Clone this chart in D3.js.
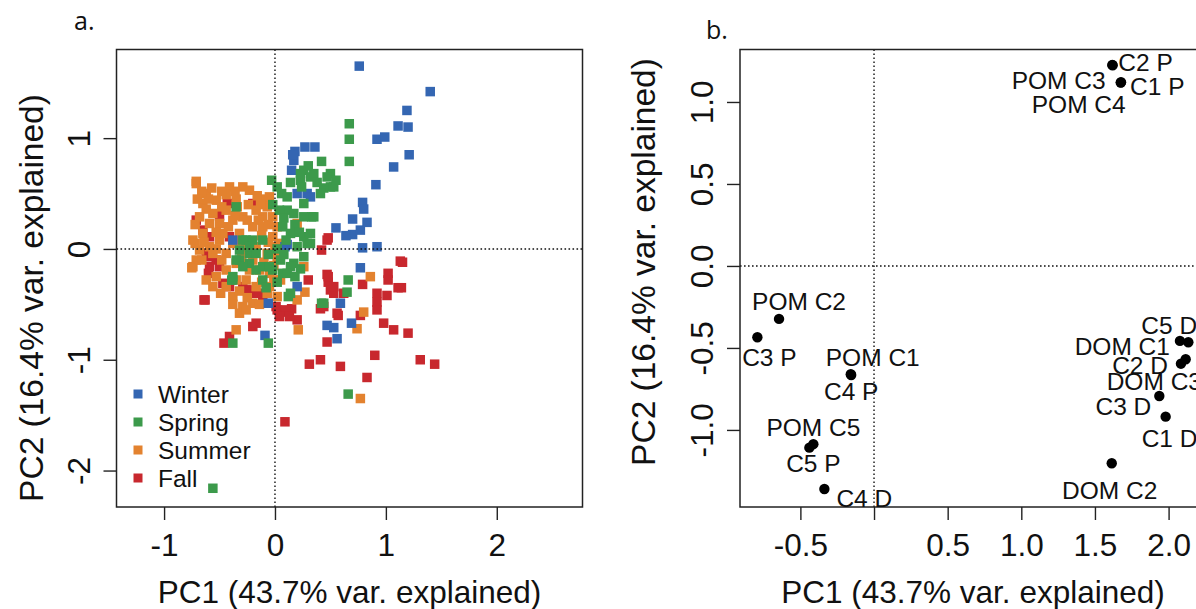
<!DOCTYPE html>
<html>
<head>
<meta charset="utf-8">
<script src="https://cdn.jsdelivr.net/npm/d3@7"></script>
<style>
  body { margin: 0; background: #fff; }
  svg { display: block; }
</style>
</head>
<body>
<svg id="chart" width="1196" height="609"></svg>
<script>
// ---- Panel a: sample scores on PC1 / PC2, grouped by season ----
const winterScores = [
  [0.76,1.65],[1.40,1.42],[1.19,1.25],[1.11,1.11],[1.20,1.10],[0.92,0.99],[0.99,1.01],[1.21,0.85],
  [1.07,0.74],[0.91,0.58],[0.79,0.42],[0.80,0.36],[0.70,0.27],[0.83,0.24],[0.55,0.19],[0.70,0.13],
  [0.77,0.17],[0.79,0.01],[0.92,0.02],[0.18,0.88],[0.27,0.92],[0.36,0.92],[0.17,0.80],[0.15,0.71],
  [0.16,0.85],[0.20,0.50],[0.29,0.50],[0.32,0.47],[0.09,0.02],[0.77,-0.17],[0.20,-0.34],[0.59,-0.49],
  [-0.06,-0.49],[0.47,-0.69],[0.53,-0.71],[0.69,-0.67],[0.56,-0.81],[-0.09,-0.78],[-0.38,0.08],
  [0.11,0.04],[0.64,0.12]
];
const springScores = [
  [0.67,1.13],[0.67,0.99],[0.67,0.79],[0.42,0.79],[0.50,0.68],[0.26,0.71],[0.23,0.62],[0.32,0.65],
  [0.50,0.56],[0.44,0.55],[-0.03,0.62],[0.02,0.56],[0.06,0.50],[0.11,0.47],[0.24,0.56],[0.33,0.29],
  [0.26,0.41],[0.11,0.35],[0.17,0.32],[0.07,0.20],[0.14,0.14],[0.26,0.11],[0.20,0.02],[0.32,0.05],
  [0.26,-0.07],[0.17,-0.13],[0.07,-0.22],[-0.02,-0.19],[-0.11,-0.28],[-0.26,0.08],[-0.32,-0.01],
  [-0.23,-0.13],[-0.17,-0.19],[-0.38,-0.28],[-0.35,0.38],[0.66,-0.28],[0.65,-0.39],[0.42,-0.49],
  [0.12,-0.43],[-0.39,-0.28],[-0.38,-0.85],[-0.06,-0.85],[0.66,-1.31],[-0.56,-2.16],[-0.11,-0.16],
  [-0.32,-0.10],[-0.23,-0.04],[0.23,0.68],[0.35,0.68],[0.47,0.65],[0.53,0.56],[0.41,0.50],
  [0.26,0.29],[0.35,0.29],[-0.29,0.08],[-0.20,0.08],[-0.11,0.08],[-0.23,0.02],[-0.17,-0.04],
  [0.29,0.05],[0.32,0.14],[0.05,-0.10],[0.14,-0.16],[0.11,-0.22],[-0.05,-0.16],[-0.35,-0.10],
  [-0.29,-0.16],[-0.38,-0.25],[0.14,-0.40],[0.44,-0.49],[-0.02,0.40],[0.04,0.35],[0.08,0.28],
  [0.18,0.22],[0.22,0.15],[0.10,0.08],[0.02,0.00],[-0.06,-0.05],[0.08,-0.05],[0.23,-0.18],
  [0.18,-0.25],[0.02,-0.30],[-0.08,-0.35],[0.38,0.60],[0.30,0.75],[0.14,0.60],[0.55,0.62]
];
const summerScores = [
  [-0.71,0.59],[-0.62,0.50],[-0.65,0.41],[-0.53,0.44],[-0.41,0.56],[-0.29,0.56],[-0.23,0.53],
  [-0.56,0.32],[-0.44,0.35],[-0.68,0.29],[-0.59,0.23],[-0.50,0.23],[-0.38,0.26],[-0.29,0.29],
  [-0.17,0.35],[-0.07,0.38],[-0.11,0.29],[-0.02,0.29],[0.02,0.20],[-0.65,0.14],[-0.74,0.08],
  [-0.68,-0.01],[-0.71,-0.10],[-0.74,-0.16],[-0.59,0.02],[-0.50,0.08],[-0.56,-0.04],[-0.44,-0.04],
  [-0.47,0.14],[-0.32,0.14],[-0.20,0.20],[-0.11,0.20],[-0.02,0.11],[0.05,0.05],[-0.26,-0.01],
  [-0.17,0.02],[-0.07,-0.04],[0.02,-0.07],[-0.35,-0.13],[-0.44,-0.19],[-0.53,-0.25],[-0.56,-0.34],
  [-0.44,-0.34],[-0.35,-0.28],[-0.23,-0.19],[-0.14,-0.19],[-0.05,-0.22],[-0.26,-0.28],[-0.17,-0.34],
  [-0.05,-0.34],[0.05,-0.28],[-0.38,-0.43],[-0.29,-0.52],[-0.20,-0.49],[-0.07,-0.40],[0.02,-0.43],
  [0.20,0.23],[0.26,-0.16],[0.20,-0.46],[-0.32,-0.58],[-0.26,-0.55],[-0.71,0.61],[-0.63,0.50],
  [-0.44,0.49],[-0.72,0.05],[0.86,-0.25],[-0.75,-0.17],[-0.35,-0.73],[0.27,-0.39],[0.21,-0.73],
  [0.80,-0.57],[0.74,-0.72],[0.77,-1.35],[-0.60,0.45],[-0.35,0.45],[-0.10,0.45],
  [-0.66,0.52],[-0.57,0.55],[-0.48,0.52],[-0.36,0.52],[-0.16,0.48],[-0.05,0.47],
  [-0.70,0.45],[-0.62,0.36],[-0.48,0.38],[-0.34,0.38],[-0.24,0.40],[-0.13,0.40],
  [-0.72,0.22],[-0.53,0.15],[-0.42,0.20],[-0.36,0.30],[-0.25,0.26],[-0.15,0.26],[-0.06,0.22],
  [-0.64,0.06],[-0.53,0.00],[-0.38,0.05],[-0.30,0.07],[-0.12,0.12],[-0.06,0.06],[0.00,0.02],
  [-0.66,-0.10],[-0.62,-0.28],[-0.48,-0.10],[-0.30,-0.08],[-0.20,-0.10],[-0.10,-0.12],[-0.01,-0.15],
  [-0.49,-0.40],[-0.32,-0.38],[-0.25,-0.44],[-0.12,-0.30],[-0.01,-0.28],[-0.14,-0.50],[-0.38,-0.50]
];
const fallScores = [
  [0.48,0.10],[0.42,-0.01],[1.13,-0.11],[-0.71,0.26],[1.02,-0.22],[1.02,-0.28],[1.11,-0.35],
  [0.79,-0.32],[0.47,-0.23],[0.48,-0.30],[0.50,-0.37],[0.53,-0.40],[0.30,-0.28],[0.92,-0.40],
  [1.01,-0.42],[0.92,-0.48],[0.92,-0.55],[0.77,-0.60],[0.57,-0.60],[0.41,-0.54],[0.98,-0.67],
  [1.07,-0.73],[1.20,-0.76],[0.47,-0.84],[0.15,-0.54],[0.20,-0.64],[0.02,-0.55],[0.07,-0.57],
  [-0.20,-0.70],[-0.46,-0.85],[-0.41,-0.79],[-0.64,-0.46],[0.31,-1.04],[0.41,-1.00],[0.59,-1.06],
  [0.90,-0.96],[0.83,-1.16],[1.31,-1.00],[1.44,-1.04],[0.09,-1.56],[-0.62,-0.04],[-0.53,-0.10],
  [-0.60,-0.22],[-0.47,-0.31],[-0.26,-0.37],[-0.17,-0.40],[-0.11,-0.43],[-0.65,0.17],[-0.59,0.11],
  [-0.41,0.11],[-0.59,-0.07],[-0.59,-0.16],[-0.50,-0.16],[-0.41,-0.34],[-0.29,-0.34],[-0.23,-0.37],
  [-0.14,-0.40],[-0.63,-0.46],[0.01,-0.52],[0.10,-0.55],[0.13,-0.61],[0.04,-0.61],[0.44,-0.52],
  [0.48,-0.25],[0.53,-0.34],[0.47,0.08],[-0.17,-0.67],[0.56,-0.58],[0.62,-0.40],[1.15,-0.12],
  [1.14,-0.35],[-0.43,0.41],[-0.20,0.41],[-0.50,0.30]
];
const seasonNames = ["Winter", "Spring", "Summer", "Fall"];
const seasonColors = ["#3466b2", "#3c9a4b", "#e3822f", "#c8282e"];

// ---- Panel b: variable loadings ----
const loadingNames = ["C2 P", "C1 P", "POM C3", "POM C4", "POM C2", "C3 P", "POM C1", "C4 P", "POM C5",
  "C5 P", "C4 D", "DOM C1", "C5 D", "DOM C3", "C2 D", "C3 D", "C1 D", "DOM C2"];
const loadingPC1 = [1.618, 1.677, 1.620, 1.675, -0.645, -0.792, -0.158, -0.155, -0.412,
  -0.439, -0.337, 2.077, 2.134, 2.116, 2.084, 1.937, 1.980, 1.614];
const loadingPC2 = [1.226, 1.120, 1.224, 1.118, -0.323, -0.435, -0.660, -0.665, -1.087,
  -1.108, -1.360, -0.457, -0.465, -0.569, -0.596, -0.793, -0.919, -1.203];

// ---- Axis ticks and titles ----
const xTitle = "PC1 (43.7% var. explained)";
const yTitle = "PC2 (16.4% var. explained)";
const aTicksX = [-1, 0, 1, 2];
const aTicksY = [-2, -1, 0, 1];
const bTicksX = [-0.5, 0, 0.5, 1.0, 1.5, 2.0];
const bTickLabelsX = ["-0.5", "", "0.5", "1.0", "1.5", "2.0"];
const bTicksY = [-1.0, -0.5, 0.0, 0.5, 1.0];
const bTickLabelsY = ["-1.0", "-0.5", "0.0", "0.5", "1.0"];

// ---- Layout ----
const FONT = "'Liberation Sans', Arial, Helvetica, sans-serif";
const TICK_FS = 31.5;
const XTITLE_FS = 31.5;
const YTITLE_FS = 33.5;
const LABEL_FS = 24.5;
const TICK = 13;

// label placement for panel b: [anchor, dx, dy] (pixels, dy to the text's visual centre)
const labelPlacement = {
  "C2 P": ["start", 6, -3], "C1 P": ["start", 9, 4], "POM C3": ["end", -7, 15],
  "POM C4": ["middle", -42, 22], "POM C2": ["middle", 20, -18], "C3 P": ["middle", 12, 20],
  "POM C1": ["middle", 22, -17], "C4 P": ["middle", 0, 16], "POM C5": ["middle", 0, -17],
  "C5 P": ["middle", 4, 16], "C4 D": ["start", 12, 9], "DOM C1": ["end", -10, 5],
  "C5 D": ["start", -47, -17], "DOM C3": ["start", -79, 22], "C2 D": ["end", -13, 1],
  "C3 D": ["end", -8, 10], "C1 D": ["start", -24, 22], "DOM C2": ["middle", -2, 27]
};

const svg = d3.select("#chart");

function drawFrame(g, x, y, opts) {
  const [x0, x1] = x.range();
  const [y0, y1] = y.range(); // y0 bottom, y1 top

  // reference lines through the origin
  g.append("line").attr("x1", x(0)).attr("x2", x(0)).attr("y1", y1).attr("y2", y0)
    .attr("stroke", "#111").attr("stroke-width", 1.4).attr("stroke-dasharray", "1.6,2.4");
  g.append("line").attr("x1", x0).attr("x2", x1).attr("y1", y(0)).attr("y2", y(0))
    .attr("stroke", "#111").attr("stroke-width", 1.4).attr("stroke-dasharray", "1.6,2.4");

  // bottom axis
  const ax = g.append("g").attr("transform", `translate(0,${y0})`)
    .call(d3.axisBottom(x).tickValues(opts.ticksX).tickSize(TICK)
      .tickFormat((d, i) => opts.labelsX[i]));
  ax.select(".domain").remove();
  ax.selectAll(".tick line").attr("stroke", "#222").attr("stroke-width", 1.4);
  ax.selectAll(".tick text").attr("y", 49).attr("dy", null)
    .attr("font-size", TICK_FS).attr("font-family", FONT).attr("fill", "#111");

  // left axis, labels parallel to the axis
  const ay = g.append("g").attr("transform", `translate(${x0},0)`)
    .call(d3.axisLeft(y).tickValues(opts.ticksY).tickSize(TICK)
      .tickFormat((d, i) => opts.labelsY[i]));
  ay.select(".domain").remove();
  ay.selectAll(".tick line").attr("stroke", "#222").attr("stroke-width", 1.4);
  ay.selectAll(".tick text").attr("x", null).attr("dy", null)
    .attr("text-anchor", "middle")
    .attr("transform", "translate(-27,0) rotate(-90)")
    .attr("font-size", TICK_FS).attr("font-family", FONT).attr("fill", "#111");

  // box
  g.append("rect").attr("x", x0).attr("y", y1).attr("width", x1 - x0).attr("height", y0 - y1)
    .attr("fill", "none").attr("stroke", "#222").attr("stroke-width", 1.5);

  // axis titles
  g.append("text").attr("x", (x0 + x1) / 2).attr("y", y0 + 96)
    .attr("text-anchor", "middle").attr("font-size", XTITLE_FS).attr("font-family", FONT)
    .attr("fill", "#111").text(xTitle);
  g.append("text")
    .attr("transform", `translate(${x0 - opts.yTitleGap},${opts.yTitleMid}) rotate(-90)`)
    .attr("text-anchor", "middle").attr("font-size", YTITLE_FS).attr("font-family", FONT)
    .attr("fill", "#111").text(yTitle);

  // panel tag
  g.append("text").attr("x", opts.tagX).attr("y", opts.tagY)
    .attr("font-size", 25).attr("font-family", "'Open Sans', Lato, sans-serif")
    .attr("fill", "#111").text(opts.tag);
}

// ---------- Panel a ----------
const xa = d3.scaleLinear().domain([-1.429, 2.773]).range([116.5, 582.5]);
const ya = d3.scaleLinear().domain([-2.329, 1.800]).range([507, 49.5]);
const ga = svg.append("g");

const seasonData = { Winter: winterScores, Spring: springScores, Summer: summerScores, Fall: fallScores };
const drawOrder = ["Fall", "Summer", "Winter", "Spring"];
const colorOf = d3.scaleOrdinal().domain(seasonNames).range(seasonColors);
const SQ = 9.5;

drawOrder.forEach(s => {
  ga.append("g").selectAll("rect").data(seasonData[s]).join("rect")
    .attr("x", d => xa(d[0]) - SQ / 2).attr("y", d => ya(d[1]) - SQ / 2)
    .attr("width", SQ).attr("height", SQ).attr("fill", colorOf(s));
});

drawFrame(ga, xa, ya, {
  ticksX: aTicksX, labelsX: aTicksX.map(String),
  ticksY: aTicksY, labelsY: aTicksY.map(String),
  yTitleGap: 74, yTitleMid: 298,
  tag: "a.", tagX: 74, tagY: 30
});

// legend
const legend = ga.append("g").attr("transform", "translate(138,394)");
seasonNames.forEach((s, i) => {
  const row = legend.append("g").attr("transform", `translate(0,${i * 28})`);
  row.append("rect").attr("x", -4.5).attr("y", -4.5).attr("width", 9).attr("height", 9)
    .attr("fill", colorOf(s));
  row.append("text").attr("x", 20).attr("y", LABEL_FS * 0.36)
    .attr("font-size", LABEL_FS).attr("font-family", FONT).attr("fill", "#111").text(s);
});

// ---------- Panel b ----------
const xb = d3.scaleLinear().domain([-0.910, 2.254]).range([740, 1206]);
const yb = d3.scaleLinear().domain([-1.470, 1.320]).range([507, 49.5]);
const gb = svg.append("g");

drawFrame(gb, xb, yb, {
  ticksX: bTicksX, labelsX: bTickLabelsX,
  ticksY: bTicksY, labelsY: bTickLabelsY,
  yTitleGap: 85, yTitleMid: 262,
  tag: "b.", tagX: 706, tagY: 39
});

const loadings = loadingNames.map((n, i) => ({ name: n, pc1: loadingPC1[i], pc2: loadingPC2[i] }));

gb.append("g").selectAll("circle").data(loadings).join("circle")
  .attr("cx", d => xb(d.pc1)).attr("cy", d => yb(d.pc2)).attr("r", 5.2).attr("fill", "#000");

gb.append("g").selectAll("text").data(loadings).join("text")
  .attr("x", d => xb(d.pc1) + labelPlacement[d.name][1])
  .attr("y", d => yb(d.pc2) + labelPlacement[d.name][2] + LABEL_FS * 0.36)
  .attr("text-anchor", d => labelPlacement[d.name][0])
  .attr("font-size", LABEL_FS).attr("font-family", FONT).attr("fill", "#111")
  .text(d => d.name);
</script>
</body>
</html>
